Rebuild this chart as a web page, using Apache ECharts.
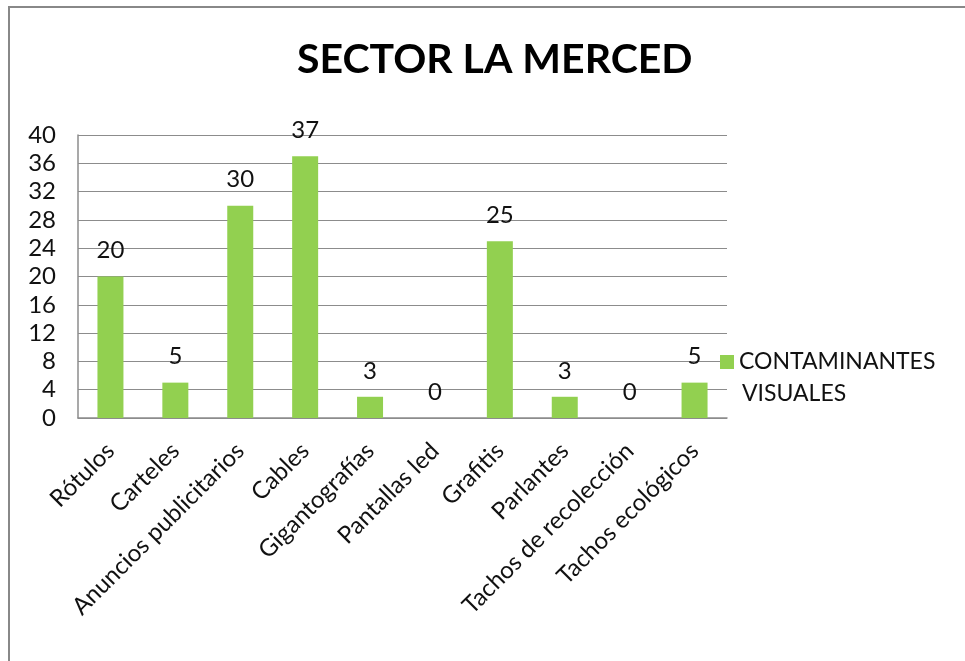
<!DOCTYPE html>
<html>
<head>
<meta charset="utf-8">
<script src="https://cdn.jsdelivr.net/npm/echarts@6/dist/echarts.min.js"></script>
<style>
  html, body { margin: 0; padding: 0; background: #fff; }
  #chart { width: 965px; height: 661px; }
</style>
</head>
<body>
<div id="chart"></div>
<script>
var categories = ['Rótulos', 'Carteles', 'Anuncios publicitarios', 'Cables', 'Gigantografías',
  'Pantallas led', 'Grafitis', 'Parlantes', 'Tachos de recolección', 'Tachos ecológicos'];
var values = [20, 5, 30, 37, 3, 0, 25, 3, 0, 5];
var seriesName = 'CONTAMINANTES VISUALES';
var titleText = 'SECTOR LA MERCED';

var font = 'Lato, "Open Sans", sans-serif';
var myChart = echarts.init(document.getElementById('chart'));

var option = {
  backgroundColor: '#fff',
  animation: false,
  graphic: [{
    // marco del gráfico (solo se ven arriba e izquierda)
    type: 'rect',
    shape: { x: 9, y: 7, width: 1000, height: 700 },
    style: { fill: 'none', stroke: '#888', lineWidth: 2 }
  }, {
    // segunda línea del texto de la leyenda
    type: 'text',
    left: 742,
    top: 382,
    style: { text: 'VISUALES', font: '23px ' + font, fill: '#111' }
  }],
  title: {
    text: titleText,
    left: 292,
    top: 34,
    textStyle: { fontFamily: font, fontSize: 41, fontWeight: 'bold', color: '#000' }
  },
  grid: { left: 78, right: 238, top: 135, bottom: 243 },
  legend: {
    left: 715,
    top: 343,
    itemWidth: 14,
    itemHeight: 14,
    icon: 'rect',
    formatter: function () { return 'CONTAMINANTES'; },
    textStyle: { fontFamily: font, fontSize: 23, color: '#111', lineHeight: 28 },
    data: [seriesName]
  },
  xAxis: {
    type: 'category',
    data: categories,
    axisLine: { lineStyle: { color: '#8c8c8c', width: 1.5 } },
    axisTick: { show: false },
    axisLabel: {
      rotate: 45,
      interval: 0,
      margin: 29,
      fontFamily: font,
      fontSize: 24,
      color: '#111'
    }
  },
  yAxis: {
    type: 'value',
    min: 0,
    max: 40,
    interval: 4,
    axisLine: { show: true, lineStyle: { color: '#8c8c8c', width: 1.5 } },
    axisTick: { show: false },
    splitLine: { lineStyle: { color: '#8c8c8c', width: 1.2 } },
    axisLabel: { margin: 22, fontFamily: font, fontSize: 24, color: '#111' }
  },
  series: [{
    name: seriesName,
    type: 'bar',
    data: values,
    barWidth: 26,
    itemStyle: { color: '#92D050' },
    label: {
      show: true,
      position: 'top',
      distance: 14,
      fontFamily: font,
      fontSize: 24,
      color: '#111'
    }
  }]
};

myChart.setOption(option);
</script>
</body>
</html>
